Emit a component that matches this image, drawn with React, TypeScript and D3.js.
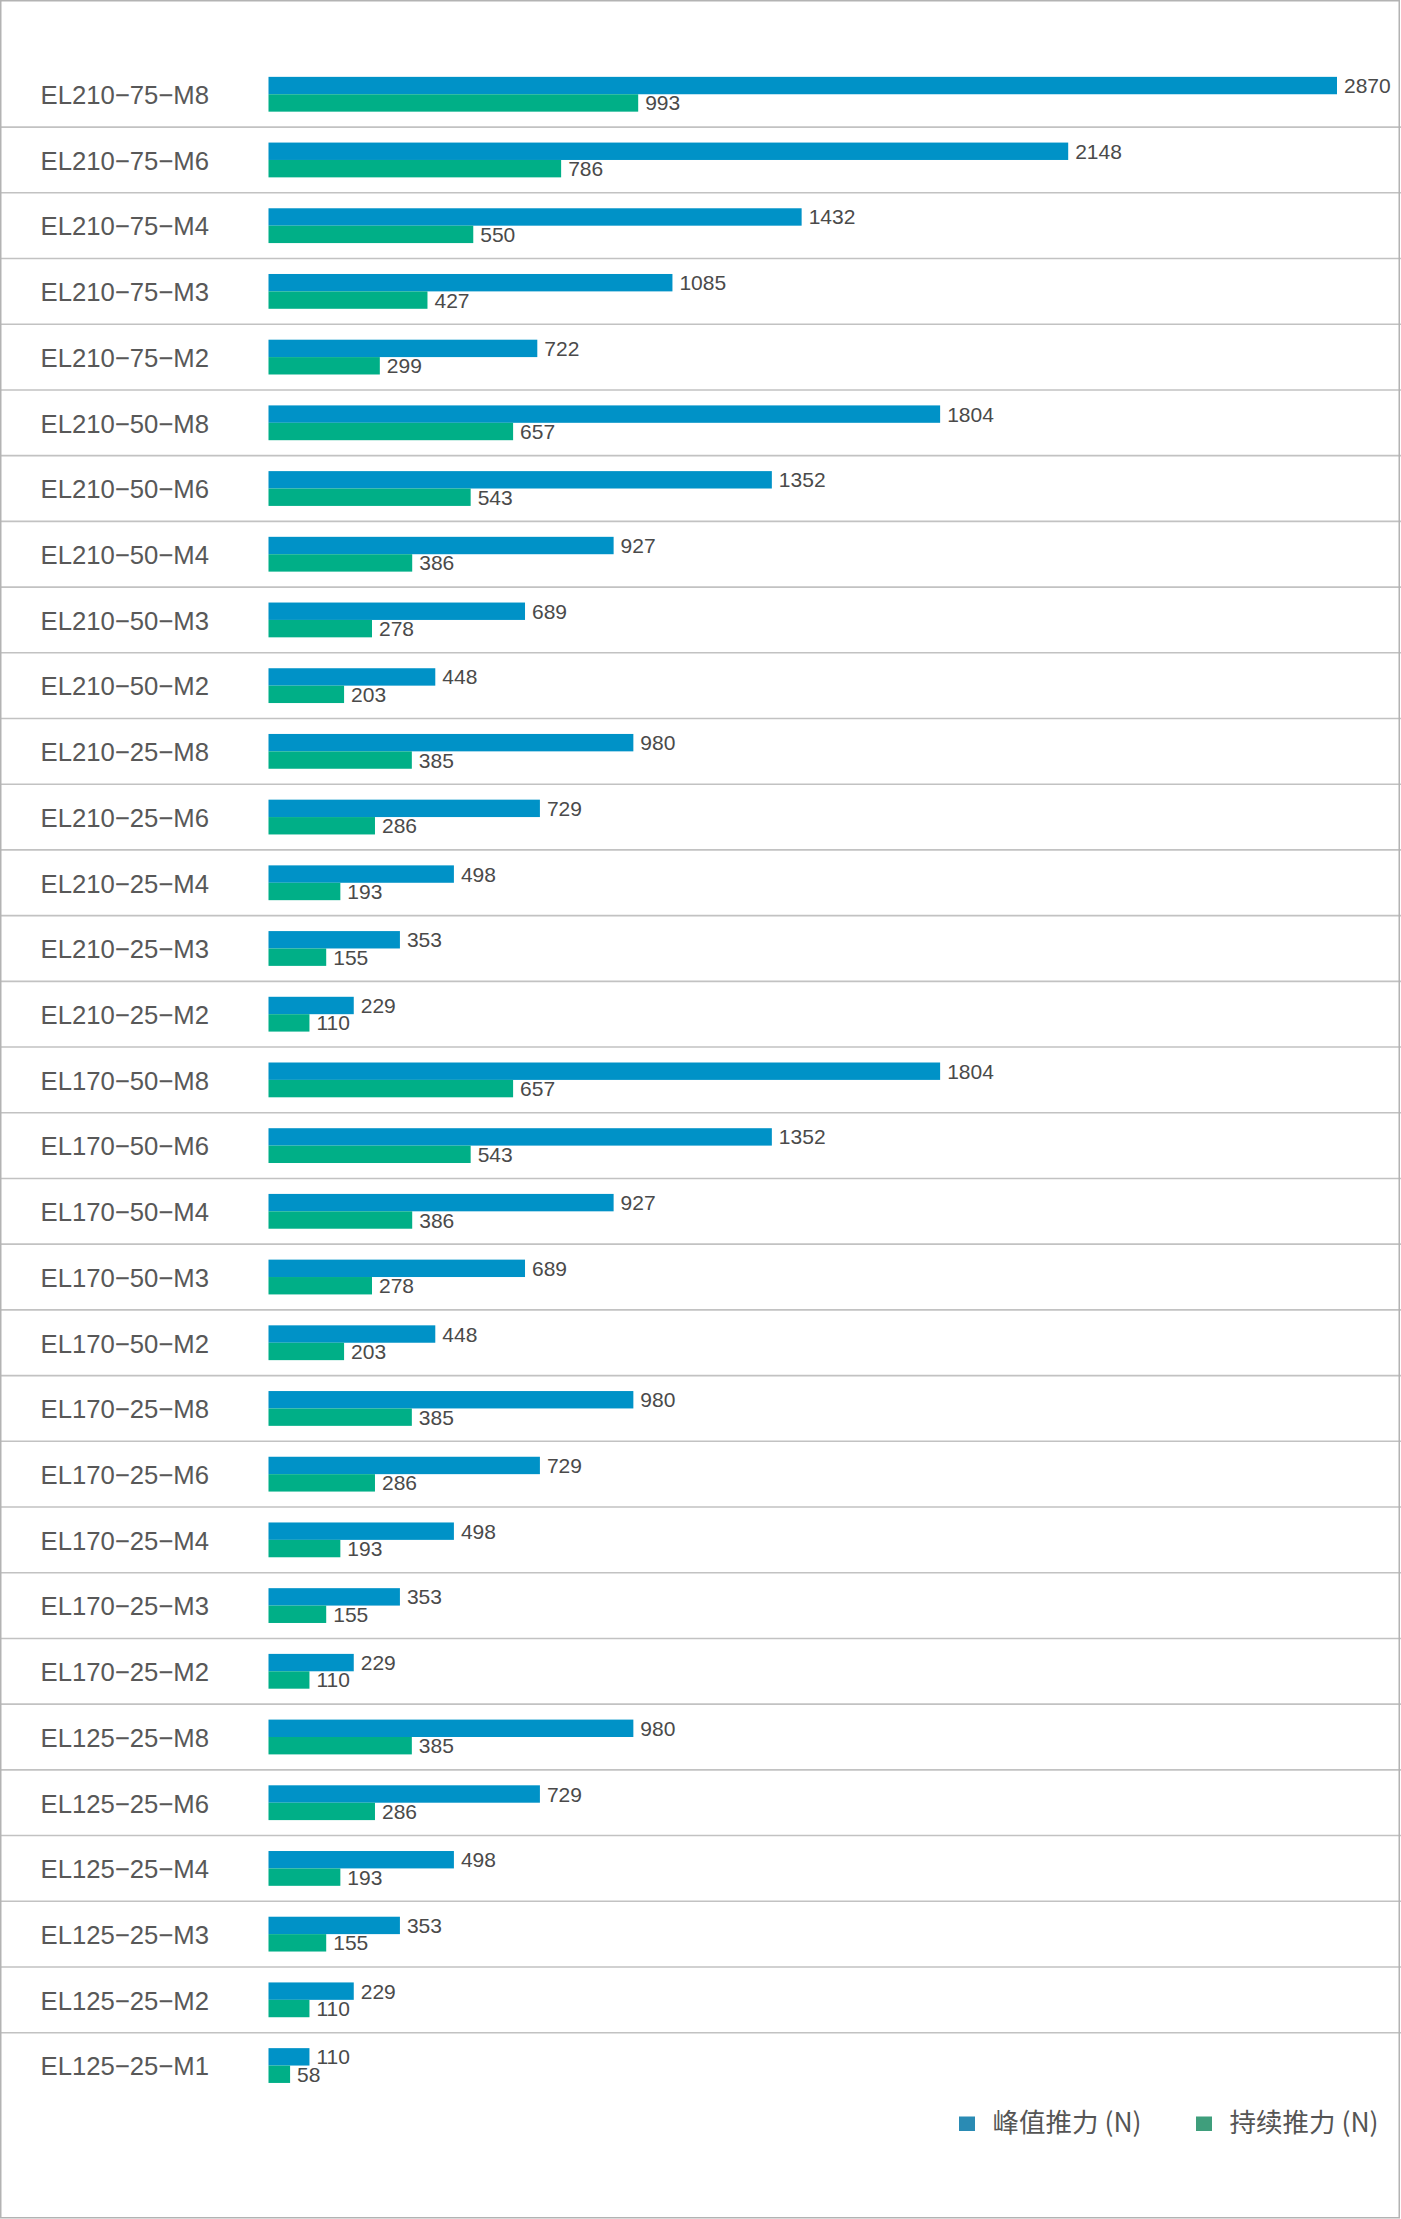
import { useMemo } from 'react'
import * as d3 from 'd3'

// --- DATA ---
const models = [
  'EL210−75−M8', 'EL210−75−M6', 'EL210−75−M4', 'EL210−75−M3', 'EL210−75−M2',
  'EL210−50−M8', 'EL210−50−M6', 'EL210−50−M4', 'EL210−50−M3', 'EL210−50−M2',
  'EL210−25−M8', 'EL210−25−M6', 'EL210−25−M4', 'EL210−25−M3', 'EL210−25−M2',
  'EL170−50−M8', 'EL170−50−M6', 'EL170−50−M4', 'EL170−50−M3', 'EL170−50−M2',
  'EL170−25−M8', 'EL170−25−M6', 'EL170−25−M4', 'EL170−25−M3', 'EL170−25−M2',
  'EL125−25−M8', 'EL125−25−M6', 'EL125−25−M4', 'EL125−25−M3', 'EL125−25−M2',
  'EL125−25−M1',
]

const peakForce = [
  2870, 2148, 1432, 1085, 722,
  1804, 1352, 927, 689, 448,
  980, 729, 498, 353, 229,
  1804, 1352, 927, 689, 448,
  980, 729, 498, 353, 229,
  980, 729, 498, 353, 229,
  110,
]

const continuousForce = [
  993, 786, 550, 427, 299,
  657, 543, 386, 278, 203,
  385, 286, 193, 155, 110,
  657, 543, 386, 278, 203,
  385, 286, 193, 155, 110,
  385, 286, 193, 155, 110,
  58,
]

const seriesNames = ['峰值推力 (N)', '持续推力 (N)']

// --- LAYOUT ---
const W = 1401
const H = 2219
const BAR_COLORS = ['#0092c7', '#00af87']
const LEGEND_COLORS = ['#2a8bb4', '#3f9e7c']
const FONT = '"Liberation Sans", Arial, Helvetica, sans-serif'

export default function App() {
  const y = useMemo(
    () => d3.scaleBand<string>().domain(models).range([61.4, 2098.4]).padding(0),
    []
  )
  const x = useMemo(() => d3.scaleLinear().domain([0, 2870]).range([268.5, 1337]), [])
  const inner = useMemo(
    () => d3.scaleBand<number>().domain([0, 1]).range([0, 34.8]).padding(0),
    []
  )

  const bw = y.bandwidth()
  const pairTop = (bw - inner.range()[1]) / 2

  return (
    <svg
      width={W}
      height={H}
      style={{ position: 'absolute', left: 0, top: 0, background: '#fff' }}
    >
      <rect x={0} y={0} width={W} height={H} fill="#fff" />

      {/* row separators */}
      {models.slice(1).map((m) => (
        <line
          key={`sep-${m}`}
          x1={0}
          x2={W}
          y1={y(m)!}
          y2={y(m)!}
          stroke="#c2c2c2"
          strokeWidth={1.6}
        />
      ))}

      {models.map((m, i) => {
        const top = y(m)!
        const vals = [peakForce[i], continuousForce[i]]
        return (
          <g key={m}>
            <text
              x={40.5}
              y={top + bw / 2 + 9.8}
              fontFamily={FONT}
              fontSize={25.7}
              fill="#585858"
            >
              {m}
            </text>
            {vals.map((v, s) => {
              const by = top + pairTop + inner(s)!
              const bh = inner.bandwidth()
              return (
                <g key={s}>
                  <rect
                    x={x(0)}
                    y={by}
                    width={x(v) - x(0)}
                    height={bh}
                    fill={BAR_COLORS[s]}
                  />
                  <text
                    x={x(v) + 7}
                    y={by + bh - 1.2}
                    fontFamily={FONT}
                    fontSize={21}
                    fill="#4a4a4a"
                  >
                    {v}
                  </text>
                </g>
              )
            })}
          </g>
        )
      })}

      {/* legend */}
      {seriesNames.map((name, s) => {
        const lx = [959, 1196][s]
        return (
          <g key={name}>
            <rect x={lx} y={2116.5} width={16} height={14.5} fill={LEGEND_COLORS[s]} />
            <text
              x={lx + 33.5}
              y={2132}
              fontFamily={'"Noto Sans CJK SC", "Liberation Sans", sans-serif'}
              fontSize={26.5}
              fill="#555"
            >
              {name}
            </text>
          </g>
        )
      })}

      {/* outer frame */}
      <rect
        x={0.75}
        y={0.75}
        width={W - 2.5}
        height={H - 2}
        fill="none"
        stroke="#b3b3b3"
        strokeWidth={1.5}
      />
    </svg>
  )
}
